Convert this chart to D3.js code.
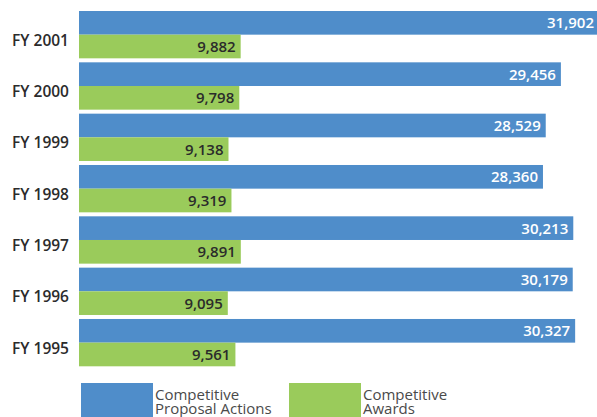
<!DOCTYPE html>
<head>
  <meta charset="utf-8">
  <script src="https://cdn.jsdelivr.net/npm/d3@7"></script>
  <style>
    body { margin: 0; background: #fff; }
    svg { display: block; font-family: "Open Sans", sans-serif; }
    .year { font-size: 15.5px; font-weight: 600; fill: #2b2b2b; }
    .val { font-size: 15px; font-weight: 600; }
    .legend text { font-size: 15px; font-weight: 400; fill: #4a4a4a; }
  </style>
</head>
<body>
<div id="chart"></div>
<script>
var years = ["FY 2001", "FY 2000", "FY 1999", "FY 1998", "FY 1997", "FY 1996", "FY 1995"];
var proposals = [31902, 29456, 28529, 28360, 30213, 30179, 30327];
var awards = [9882, 9798, 9138, 9319, 9891, 9095, 9561];
var seriesNames = [["Competitive", "Proposal Actions"], ["Competitive", "Awards"]];
var colors = ["#4f8dca", "#9acb5b"];

var width = 597, height = 417;
var left = 79;

var svg = d3.select("#chart").append("svg")
    .attr("width", width)
    .attr("height", height);

var x = d3.scaleLinear()
    .domain([0, 1])
    .range([left, left + 0.01636]);

var y = d3.scaleBand()
    .domain(years)
    .range([11, 11 + 7 * 51.33 - 4])
    .paddingInner(4 / 51.33)
    .paddingOuter(0);

var sub = d3.scaleBand()
    .domain([0, 1])
    .range([0, y.bandwidth()]);

var fmt = d3.format(",");

var data = years.map(function(d, i) {
  return { year: d, values: [proposals[i], awards[i]] };
});

var groups = svg.selectAll(".grp")
    .data(data)
  .enter().append("g")
    .attr("class", "grp")
    .attr("transform", function(d) { return "translate(0," + y(d.year) + ")"; });

groups.append("text")
    .attr("class", "year")
    .attr("x", 69)
    .attr("y", y.bandwidth() / 2 + 11)
    .attr("text-anchor", "end")
    .text(function(d) { return d.year; });

var bars = groups.selectAll(".bar")
    .data(function(d) { return d.values.map(function(v, k) { return { v: v, k: k }; }); })
  .enter().append("g")
    .attr("class", "bar");

bars.append("rect")
    .attr("x", left)
    .attr("y", function(d) { return sub(d.k); })
    .attr("width", function(d) { return x(d.v) - left; })
    .attr("height", sub.bandwidth())
    .style("fill", function(d) { return colors[d.k]; });

bars.append("text")
    .attr("class", "val")
    .attr("x", function(d) { return Math.min(x(d.v), width + 2) - 5; })
    .attr("y", function(d) { return sub(d.k) + sub.bandwidth() / 2 + 5.5; })
    .attr("text-anchor", "end")
    .style("fill", function(d) { return d.k === 0 ? "#ffffff" : "#2b2b2b"; })
    .text(function(d) { return fmt(d.v); });

// legend
var legend = svg.append("g").attr("class", "legend");
var lx = [81, 289];
seriesNames.forEach(function(names, k) {
  legend.append("rect")
      .attr("x", lx[k])
      .attr("y", 383)
      .attr("width", 72)
      .attr("height", 40)
      .style("fill", colors[k]);
  names.forEach(function(n, j) {
    legend.append("text")
        .attr("x", lx[k] + 74)
        .attr("y", 399.5 + j * 14)
        .text(n);
  });
});
</script>
</body>
